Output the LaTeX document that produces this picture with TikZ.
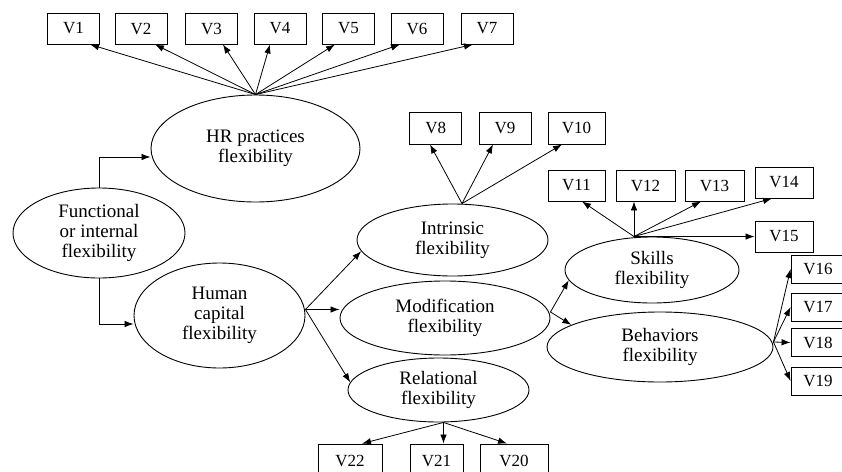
\documentclass[tikz,border=0pt]{standalone}
\usepackage{fontspec}
\setmainfont{Liberation Serif}
\usetikzlibrary{arrows.meta,shapes.geometric}
\begin{document}
\begin{tikzpicture}[x=1pt,y=-1pt,
  lat/.style={draw, ellipse, inner sep=0pt, line width=0.9pt, align=center, font=\fontsize{19}{20}\selectfont},
  obs/.style={draw, rectangle, inner sep=0pt, line width=0.9pt, minimum height=31pt, minimum width=52pt, font=\fontsize{17}{18}\selectfont},
  arr/.style={line width=0.8pt, -{Latex[length=9pt,width=6.5pt]}}]
\useasboundingbox (0,0) rectangle (842,471);
% latent variables
\node[lat, minimum width=209pt, minimum height=107pt] (hr) at (255.5,148.5) {HR practices\\flexibility};
\node[lat, minimum width=172pt, minimum height=90pt] (func) at (99,233) {Functional\\or internal\\flexibility};
\node[lat, minimum width=171pt, minimum height=105pt] (human) at (219.5,315.5) {Human\\capital\\flexibility};
\node[lat, minimum width=191pt, minimum height=72pt] (intr) at (452.5,240) {Intrinsic\\flexibility};
\node[lat, minimum width=210pt, minimum height=74pt] (mod) at (445,318) {Modification\\flexibility};
\node[lat, minimum width=181pt, minimum height=64pt] (rel) at (438.5,390) {Relational\\flexibility};
\node[lat, minimum width=174pt, minimum height=66pt] (skills) at (652,270) {Skills\\flexibility};
\node[lat, minimum width=226pt, minimum height=70pt] (beh) at (660,347) {Behaviors\\flexibility};
% observed variables
\node[obs] (v1) at (73.5,28.5) {V1};
\node[obs] (v2) at (141,28.5) {V2};
\node[obs] (v3) at (211.5,28.5) {V3};
\node[obs] (v4) at (280,28.5) {V4};
\node[obs] (v5) at (348.5,28.5) {V5};
\node[obs] (v6) at (417,28.5) {V6};
\node[obs] (v7) at (487,28.5) {V7};
\node[obs, minimum height=32pt] (v8) at (435.75,128) {V8};
\node[obs, minimum height=32pt] (v9) at (505,128) {V9};
\node[obs, minimum height=32pt, minimum width=57pt] (v10) at (576.5,128) {V10};
\node[obs, minimum width=57pt] (v11) at (576.5,185.5) {V11};
\node[obs, minimum width=59pt] (v12) at (645.5,185.5) {V12};
\node[obs, minimum width=59pt] (v13) at (714.5,185.5) {V13};
\node[obs, minimum width=58pt] (v14) at (784,182.5) {V14};
\node[obs, minimum width=58pt] (v15) at (784,236.5) {V15};
\node[obs, minimum width=54pt, minimum height=28pt] (v16) at (818,269) {V16};
\node[obs, minimum width=54pt, minimum height=28pt] (v17) at (818,307) {V17};
\node[obs, minimum width=54pt, minimum height=28pt] (v18) at (818,342.5) {V18};
\node[obs, minimum width=54pt, minimum height=28pt] (v19) at (818,381) {V19};
\node[obs, minimum width=64pt, minimum height=33pt] (v22) at (350,460.5) {V22};
\node[obs, minimum width=53pt, minimum height=33pt] (v21) at (436.5,460.5) {V21};
\node[obs, minimum width=68pt, minimum height=33pt] (v20) at (514,460.5) {V20};
% HR practices
\draw[arr] (hr.north) -- ([xshift=16.5pt]v1.south);
\draw[arr] (hr.north) -- ([xshift=14pt]v2.south);
\draw[arr] (hr.north) -- ([xshift=11.5pt]v3.south);
\draw[arr] (hr.north) -- ([xshift=-10pt]v4.south);
\draw[arr] (hr.north) -- ([xshift=-13.5pt]v5.south);
\draw[arr] (hr.north) -- ([xshift=-17pt]v6.south);
\draw[arr] (hr.north) -- ([xshift=-14pt]v7.south);
% functional
\draw[arr] (func.north) |- ([yshift=-8.5pt]hr.west);
\draw[arr] (func.south) |- ([yshift=-8.5pt]human.west);
% human capital
\coordinate (hsrc) at ([yshift=6pt]human.east);
\draw[arr] (hsrc) -- (intr.187);
\draw[arr] (hsrc) -- (hsrc -| mod.west);
\draw[arr] (hsrc) -- (rel.175);
% intrinsic
\coordinate (isrc) at ([xshift=9.5pt]intr.north);
\draw[arr] (isrc) -- ([xshift=-5.75pt]v8.south);
\draw[arr] (isrc) -- ([xshift=-12pt]v9.south);
\draw[arr] (isrc) -- ([xshift=-14.5pt]v10.south);
% modification
\coordinate (msrc) at ([yshift=6pt]mod.east);
\draw[arr] (msrc) -- (skills.187);
\draw[arr] (msrc) -- (beh.166);
% skills
\coordinate (ssrc) at ([xshift=-18pt]skills.north);
\draw[arr] (ssrc) -- ([xshift=5.5pt]v11.south);
\draw[arr] (ssrc) -- ([xshift=-11.5pt]v12.south);
\draw[arr] (ssrc) -- ([xshift=-13.5pt]v13.south);
\draw[arr] (ssrc) -- ([xshift=-12pt]v14.south);
\draw[arr] (ssrc) -- (ssrc -| v15.west);
% behaviors
\coordinate (bsrc) at ([yshift=5pt]beh.east);
\draw[arr] (bsrc) -- (v16.west);
\draw[arr] (bsrc) -- (v17.west);
\draw[arr] (bsrc) -- (v18.west);
\draw[arr] (bsrc) -- (v19.west);
% relational
\coordinate (rsrc) at ([xshift=5pt]rel.south);
\draw[arr] (rsrc) -- ([xshift=12pt]v22.north);
\draw[arr] (rsrc) -- (rsrc |- v21.north);
\draw[arr] (rsrc) -- ([xshift=-7pt]v20.north);
\end{tikzpicture}
\end{document}
